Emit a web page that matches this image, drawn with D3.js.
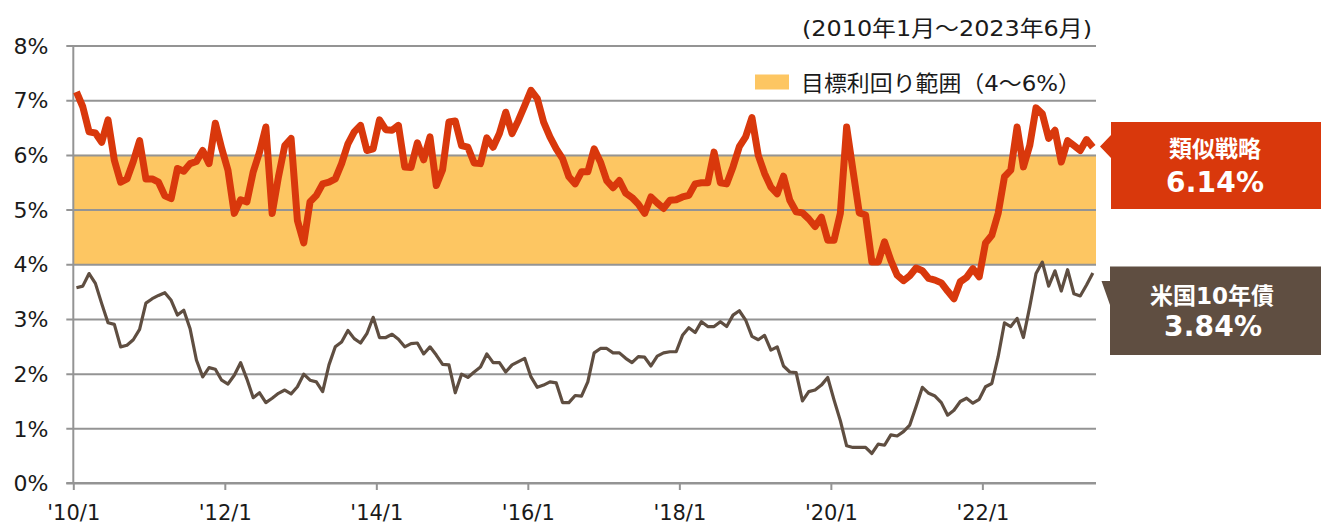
<!DOCTYPE html>
<html><head><meta charset="utf-8">
<script src="https://cdn.jsdelivr.net/npm/d3@7"></script>
<style>
html,body{margin:0;padding:0;background:#fff;}
svg text{font-family:"DejaVu Sans","Noto Sans CJK JP",sans-serif;}
</style></head>
<body><svg id="c" width="1321" height="526"></svg>
<script>
// 2010/1 .. 2023/6 monthly (162 months)
const strategy = [7.15,6.88,6.42,6.40,6.23,6.64,5.90,5.50,5.56,5.88,6.26,5.56,5.56,5.50,5.25,5.20,5.75,5.70,5.84,5.88,6.08,5.84,6.58,6.12,
5.72,4.93,5.18,5.14,5.69,6.05,6.51,4.93,5.60,6.17,6.30,4.80,4.39,5.14,5.26,5.47,5.50,5.56,5.84,6.20,6.42,6.54,6.08,6.11,
6.64,6.46,6.45,6.54,5.78,5.77,6.22,5.91,6.33,5.44,5.73,6.60,6.62,6.17,6.14,5.85,5.84,6.31,6.14,6.39,6.78,6.39,6.63,6.90,
7.18,7.03,6.60,6.33,6.11,5.93,5.60,5.47,5.69,5.69,6.11,5.87,5.53,5.40,5.53,5.30,5.22,5.10,4.93,5.23,5.12,5.02,5.17,5.18,
5.23,5.26,5.47,5.49,5.49,6.05,5.49,5.47,5.78,6.15,6.33,6.68,5.99,5.66,5.41,5.29,5.61,5.17,4.96,4.94,4.83,4.69,4.86,4.44,
4.44,4.93,6.51,5.72,4.94,4.90,4.04,4.04,4.41,4.07,3.80,3.70,3.79,3.93,3.88,3.74,3.71,3.66,3.51,3.37,3.68,3.76,3.92,3.77,
4.39,4.53,4.93,5.60,5.72,6.51,5.78,6.17,6.86,6.75,6.30,6.45,5.87,6.26,6.17,6.08,6.28,6.14];
const ust10 = [3.57,3.60,3.83,3.65,3.28,2.93,2.90,2.49,2.52,2.62,2.81,3.29,3.37,3.43,3.48,3.34,3.07,3.16,2.82,2.25,1.94,2.11,2.08,1.88,
1.81,1.97,2.20,1.90,1.56,1.65,1.47,1.55,1.64,1.70,1.63,1.76,1.99,1.88,1.85,1.67,2.16,2.49,2.58,2.79,2.64,2.56,2.73,3.03,
2.66,2.66,2.72,2.63,2.49,2.55,2.56,2.36,2.49,2.34,2.17,2.16,1.65,1.99,1.93,2.03,2.12,2.36,2.20,2.20,2.03,2.16,2.22,2.28,
1.94,1.75,1.79,1.85,1.83,1.47,1.47,1.60,1.59,1.85,2.38,2.46,2.46,2.38,2.38,2.28,2.20,2.31,2.30,2.14,2.32,2.38,2.40,2.40,
2.70,2.84,2.75,2.95,2.86,2.86,2.95,2.86,3.07,3.15,2.98,2.68,2.62,2.70,2.43,2.49,2.14,2.03,2.02,1.50,1.67,1.70,1.79,1.93,
1.52,1.14,0.68,0.65,0.65,0.65,0.54,0.71,0.69,0.88,0.86,0.94,1.06,1.40,1.75,1.64,1.59,1.47,1.24,1.33,1.49,1.55,1.46,1.53,
1.76,1.82,2.31,2.93,2.86,3.01,2.66,3.22,3.83,4.04,3.60,3.88,3.51,3.90,3.46,3.42,3.62,3.84];
const months = [];
for (let y = 2010; y <= 2023; y++) for (let m = 1; m <= 12; m++) { if (y === 2023 && m > 6) break; months.push(y + "/" + m); }
const xTickLabels = ["'10/1","'12/1","'14/1","'16/1","'18/1","'20/1","'22/1"];
const yTicks = [0,1,2,3,4,5,6,7,8];
const targetRange = [4, 6];
const legendLabel = "目標利回り範囲（4～6%）";
const periodLabel = "(2010年1月～2023年6月)";
const callouts = [{name:"類似戦略", value:"6.14%"},{name:"米国10年債", value:"3.84%"}];

const svg = d3.select("#c");
const L = 73.3, R = 1096, T = 45.5, B = 483;
const x = d3.scaleLinear().domain([-0.5, months.length - 0.5]).range([L, R]);
const y = d3.scaleLinear().domain([0, 8]).range([B, T]);
const grid = "#949494";
const red = "#D9380C", brown = "#5F4E41", band = "#FDC662";

// target band
svg.append("rect").attr("x", L).attr("width", R - L)
  .attr("y", y(targetRange[1])).attr("height", y(targetRange[0]) - y(targetRange[1]))
  .attr("fill", band);

// gridlines + y axis
const yAxis = d3.axisLeft(y).tickValues(yTicks).tickSize(-(R - L)).tickFormat(d => d + "%");
const ya = svg.append("g").attr("transform", `translate(${L},0)`).call(yAxis);
ya.select(".domain").remove();
ya.selectAll(".tick line").attr("stroke", grid).attr("stroke-width", 2).attr("x1", -7);
ya.selectAll(".tick text").attr("x", -25).attr("font-size", 22).attr("fill", "#1a1a1a")
  .attr("dy", "0.35em").style("text-anchor", "end");
svg.append("line").attr("x1", L).attr("x2", L).attr("y1", T).attr("y2", B + 0.5)
  .attr("stroke", grid).attr("stroke-width", 2);

// x axis
const tickIdx = xTickLabels.map((d, k) => k * 24 - 0.5);
const xAxis = d3.axisBottom(x).tickValues(tickIdx).tickSize(7).tickFormat((d, k) => xTickLabels[k]);
const xa = svg.append("g").attr("transform", `translate(0,${B})`).call(xAxis);
xa.select(".domain").attr("stroke", grid).attr("stroke-width", 2).attr("d", `M${L - 7},0H${R}`);
xa.selectAll(".tick line").attr("stroke", grid).attr("stroke-width", 2);
xa.selectAll(".tick text").attr("font-size", 21).attr("fill", "#1a1a1a").attr("y", 22).attr("dy", "0.71em");

// lines
const line = d3.line().x((d, i) => x(i)).y(d => y(d)).curve(d3.curveLinear);
svg.append("path").datum(ust10).attr("d", line).attr("fill", "none")
  .attr("stroke", brown).attr("stroke-width", 3.2).attr("stroke-linejoin", "round");
svg.append("path").datum(strategy).attr("d", line).attr("fill", "none")
  .attr("stroke", red).attr("stroke-width", 7).attr("stroke-linejoin", "round");

// period label
svg.append("text").attr("x", 1092).attr("y", 36).attr("text-anchor", "end")
  .attr("font-size", 22).attr("fill", "#1a1a1a").attr("textLength", 290).attr("lengthAdjust", "spacingAndGlyphs")
  .text(periodLabel);

// legend
svg.append("rect").attr("x", 755).attr("y", 74.5).attr("width", 34).attr("height", 15).attr("fill", band);
svg.append("text").attr("x", 801).attr("y", 90.5).attr("font-size", 22).attr("fill", "#1a1a1a")
  .attr("textLength", 280).attr("lengthAdjust", "spacingAndGlyphs").text(legendLabel);

// callouts
const c1 = svg.append("g");
c1.append("path").attr("d", "M1111,122H1321V209H1111V158L1100,146.5L1111,135Z").attr("fill", red);
c1.append("text").attr("x", 1215).attr("y", 157).attr("text-anchor", "middle").attr("font-size", 23)
  .attr("font-weight", "bold").attr("fill", "#fff").text(callouts[0].name);
c1.append("text").attr("x", 1215).attr("y", 192).attr("text-anchor", "middle").attr("font-size", 28)
  .attr("font-weight", "bold").attr("fill", "#fff").attr("textLength", 98).text(callouts[0].value);
const c2 = svg.append("g");
c2.append("path").attr("d", "M1110,266.5H1321V355H1110V305L1101.5,281H1110Z").attr("fill", brown);
c2.append("text").attr("x", 1212).attr("y", 304).attr("text-anchor", "middle").attr("font-size", 23)
  .attr("font-weight", "bold").attr("fill", "#fff").text(callouts[1].name);
c2.append("text").attr("x", 1213).attr("y", 335.5).attr("text-anchor", "middle").attr("font-size", 28)
  .attr("font-weight", "bold").attr("fill", "#fff").attr("textLength", 98).text(callouts[1].value);
</script></body></html>
